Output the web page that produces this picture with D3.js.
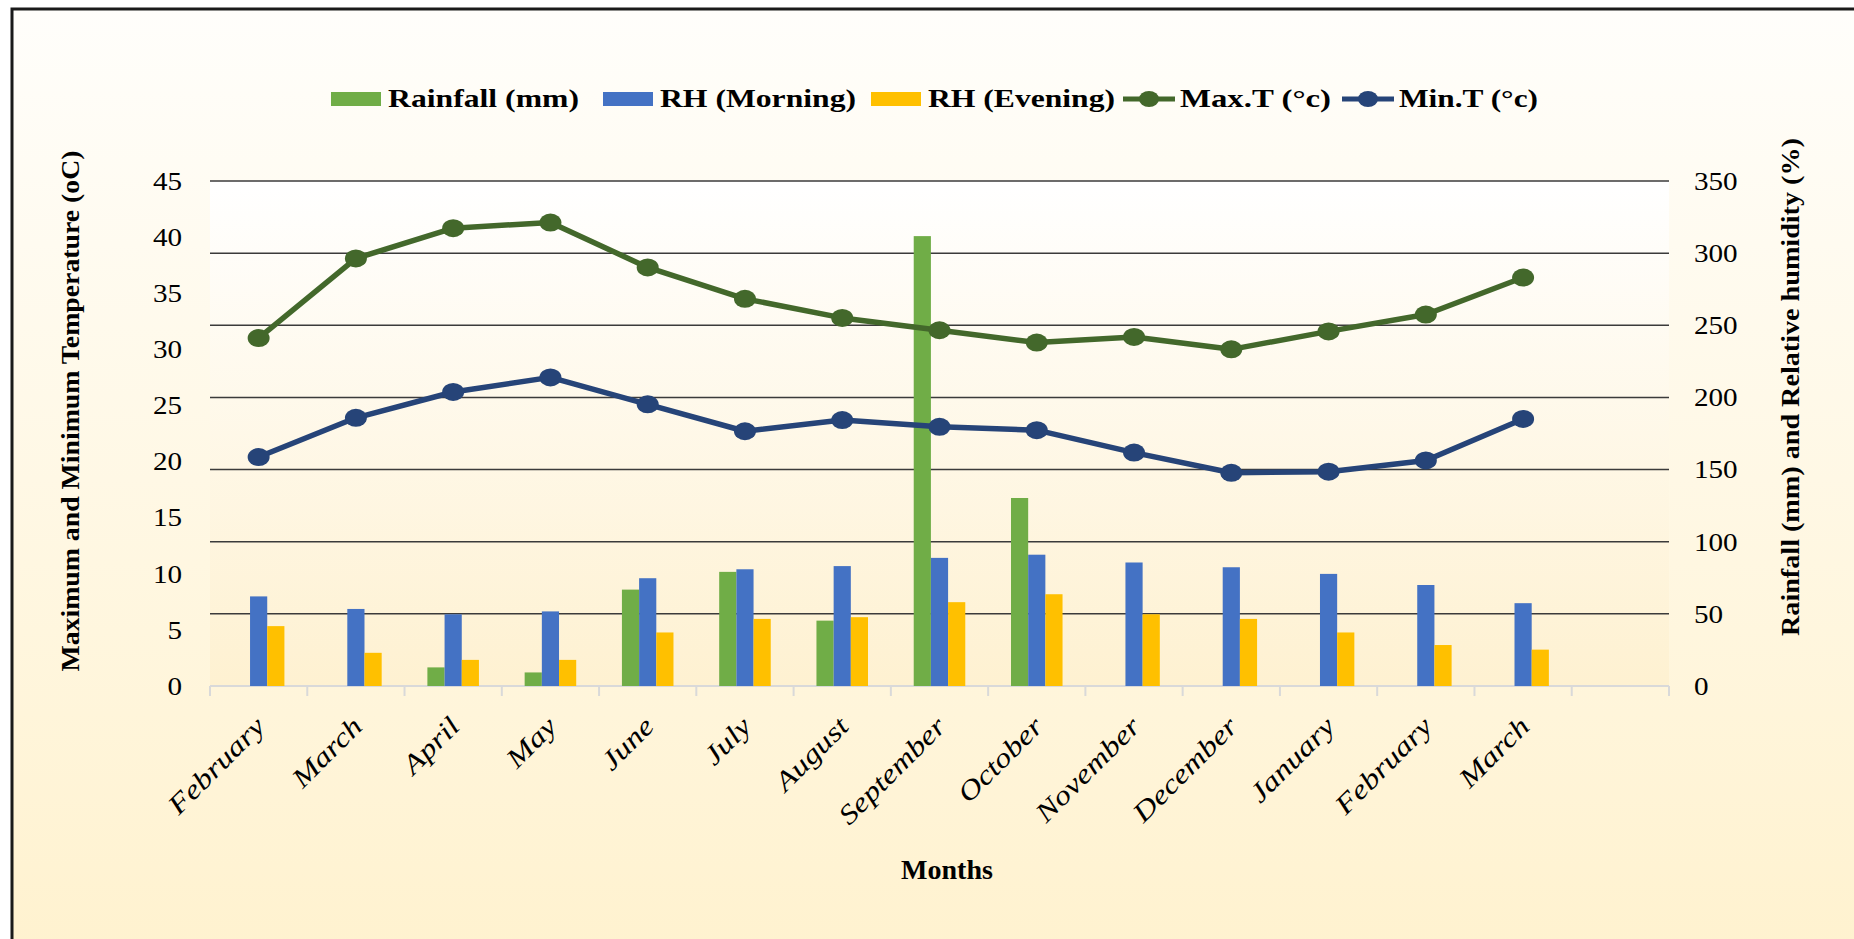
<!DOCTYPE html>
<meta charset="utf-8">
<html>
<head>
<title>Weather chart</title>
<style>
  body { margin: 0; background: #fff; }
  svg { display: block; }
  text { font-family: "Liberation Serif", "Times New Roman", serif; fill: #000; }
</style>
</head>
<body>
<script src="https://d3js.org/d3.v7.min.js"></script>
<svg width="1854" height="939"></svg>
<script>
// data
var months = ["February", "March", "April", "May", "June", "July", "August", "September",
              "October", "November", "December", "January", "February", "March", ""];
var rainfall  = [0, 0, 12.9, 9.4, 66.8, 79.1, 45.3, 311.8, 130.3, 0, 0, 0, 0, 0];
var rhMorning = [62.1, 53.4, 49.7, 51.7, 74.7, 80.9, 83.1, 88.8, 91.0, 85.6, 82.3, 77.7, 70.0, 57.4];
var rhEvening = [41.5, 23.0, 18.1, 18.1, 37.1, 46.5, 47.7, 58.1, 63.6, 49.7, 46.5, 37.1, 28.4, 25.2];
var maxT = [31.0, 38.1, 40.8, 41.3, 37.3, 34.5, 32.8, 31.7, 30.6, 31.1, 30.0, 31.6, 33.1, 36.4];
var minT = [20.4, 23.9, 26.2, 27.5, 25.1, 22.7, 23.7, 23.1, 22.8, 20.8, 19.0, 19.1, 20.1, 23.8];
var leftTicks = [0, 5, 10, 15, 20, 25, 30, 35, 40, 45];
var rightTicks = [0, 50, 100, 150, 200, 250, 300, 350];

var svg = d3.select("svg"),
    plotL = 210, plotR = 1669, plotT = 181, plotB = 686;

var defs = svg.append("defs");
var g1 = defs.append("linearGradient").attr("id", "bg").attr("x1", 0).attr("y1", 0).attr("x2", 0).attr("y2", 1);
g1.append("stop").attr("offset", "0%").attr("stop-color", "#fffefb");
g1.append("stop").attr("offset", "100%").attr("stop-color", "#fff2cf");
var g2 = defs.append("linearGradient").attr("id", "plotbg").attr("x1", 0).attr("y1", 0).attr("x2", 0).attr("y2", 1);
g2.append("stop").attr("offset", "0%").attr("stop-color", "#ffffff");
g2.append("stop").attr("offset", "100%").attr("stop-color", "#fef1d1");

svg.append("rect").attr("x", 12).attr("y", 9).attr("width", 1854).attr("height", 940).attr("fill", "url(#bg)");
svg.append("path").attr("d", "M12,950 L12,9 L1860,9").attr("fill", "none").attr("stroke", "#1a1a1a").attr("stroke-width", 3);
svg.append("rect").attr("x", plotL).attr("y", plotT).attr("width", plotR - plotL).attr("height", plotB - plotT).attr("fill", "url(#plotbg)");

var x = d3.scaleBand().domain(d3.range(months.length)).range([plotL, plotR]);
var yL = d3.scaleLinear().domain([0, 45]).range([plotB, plotT]);
var yR = d3.scaleLinear().domain([0, 350]).range([plotB, plotT]);

// gridlines
svg.append("g").selectAll("line").data(rightTicks.slice(1)).join("line")
    .attr("x1", plotL).attr("x2", plotR)
    .attr("y1", function(d) { return yR(d); }).attr("y2", function(d) { return yR(d); })
    .attr("stroke", "#3b3b3b").attr("stroke-width", 1.5);

// axis line + band ticks
svg.append("line").attr("x1", plotL).attr("x2", plotR).attr("y1", plotB).attr("y2", plotB)
    .attr("stroke", "#d9d9d9").attr("stroke-width", 2);
svg.append("g").selectAll("line").data(d3.range(months.length + 1)).join("line")
    .attr("x1", function(d) { return plotL + d * x.step(); })
    .attr("x2", function(d) { return plotL + d * x.step(); })
    .attr("y1", plotB).attr("y2", plotB + 10)
    .attr("stroke", "#d9d9d9").attr("stroke-width", 2);

// bars
var keys = ["rain", "morn", "eve"];
var colors = {rain: "#70ad47", morn: "#4472c4", eve: "#ffc000"};
var groupW = x.bandwidth() * 0.53;
var x1 = d3.scaleBand().domain(keys).range([0, groupW]);
var rows = rhMorning.map(function(v, i) {
  return {i: i, rain: rainfall[i], morn: v, eve: rhEvening[i]};
});
svg.append("g").selectAll("g").data(rows).join("g")
    .attr("transform", function(d) { return "translate(" + (x(d.i) + (x.bandwidth() - groupW) / 2) + ",0)"; })
  .selectAll("rect").data(function(d) { return keys.map(function(k) { return {k: k, v: d[k]}; }); }).join("rect")
    .attr("x", function(d) { return x1(d.k); })
    .attr("width", x1.bandwidth())
    .attr("y", function(d) { return yR(d.v); })
    .attr("height", function(d) { return plotB - yR(d.v); })
    .attr("fill", function(d) { return colors[d.k]; });

// lines
function drawLine(vals, color) {
  var line = d3.line().x(function(d, i) { return x(i) + x.bandwidth() / 2; }).y(function(d) { return yL(d); });
  svg.append("path").datum(vals).attr("d", line).attr("fill", "none")
      .attr("stroke", color).attr("stroke-width", 5.5).attr("stroke-linejoin", "round");
  svg.append("g").selectAll("ellipse").data(vals).join("ellipse")
      .attr("cx", function(d, i) { return x(i) + x.bandwidth() / 2; })
      .attr("cy", function(d) { return yL(d); })
      .attr("rx", 11).attr("ry", 9).attr("fill", color);
}
drawLine(maxT, "#43682b");
drawLine(minT, "#264478");

// axes
var axL = svg.append("g").attr("transform", "translate(" + plotL + ",0)")
    .call(d3.axisLeft(yL).tickValues(leftTicks).tickSize(0).tickPadding(28));
var axR = svg.append("g").attr("transform", "translate(" + plotR + ",0)")
    .call(d3.axisRight(yR).tickValues(rightTicks).tickSize(0).tickPadding(25));
[axL, axR].forEach(function(a) {
  a.select(".domain").remove();
  a.selectAll("text").attr("font-family", "Liberation Serif, serif").attr("font-size", 26).attr("fill", "#000")
      .each(function() {
        var t = d3.select(this);
        t.attr("textLength", this.getComputedTextLength() * 1.12).attr("lengthAdjust", "spacingAndGlyphs");
      });
});

// month labels, a little wider than the plain font like in the picture
svg.append("g").selectAll("text").data(months).join("text")
    .attr("transform", function(d, i) { return "translate(" + (x(i) + x.bandwidth() / 2 + 8) + ",728) rotate(-45)"; })
    .attr("text-anchor", "end").attr("font-size", 27).attr("font-style", "italic")
    .text(function(d) { return d; })
    .each(function(d) {
      if (d) d3.select(this).attr("textLength", this.getComputedTextLength() * 1.22).attr("lengthAdjust", "spacingAndGlyphs");
    });

// titles
svg.append("text").attr("transform", "translate(79,411) rotate(-90)")
    .attr("text-anchor", "middle").attr("font-size", 26).attr("font-weight", "bold")
    .attr("textLength", 521).attr("lengthAdjust", "spacingAndGlyphs")
    .text("Maximum and Minimum Temperature (oC)");
svg.append("text").attr("transform", "translate(1799,387) rotate(-90)")
    .attr("text-anchor", "middle").attr("font-size", 26).attr("font-weight", "bold")
    .attr("textLength", 498).attr("lengthAdjust", "spacingAndGlyphs")
    .text("Rainfall (mm) and Relative humidity (%)");
svg.append("text").attr("x", 947).attr("y", 879).attr("text-anchor", "middle")
    .attr("font-size", 28).attr("font-weight", "bold").text("Months");

// legend
var legendItems = [
  {name: "Rainfall (mm)", color: "#70ad47", type: "bar", x: 331, w: 191},
  {name: "RH (Morning)", color: "#4472c4", type: "bar", x: 603, w: 196},
  {name: "RH (Evening)", color: "#ffc000", type: "bar", x: 871, w: 187},
  {name: "Max.T (°c)", color: "#43682b", type: "line", x: 1123, w: 151},
  {name: "Min.T (°c)", color: "#264478", type: "line", x: 1342, w: 139}
];
var leg = svg.append("g").selectAll("g").data(legendItems).join("g")
    .attr("transform", function(d) { return "translate(" + d.x + ",99)"; });
leg.filter(function(d) { return d.type == "bar"; }).append("rect")
    .attr("x", 0).attr("y", -7).attr("width", 50).attr("height", 14)
    .attr("fill", function(d) { return d.color; });
leg.filter(function(d) { return d.type == "line"; }).append("line")
    .attr("x1", 0).attr("x2", 52).attr("y1", 0).attr("y2", 0)
    .attr("stroke", function(d) { return d.color; }).attr("stroke-width", 5);
leg.filter(function(d) { return d.type == "line"; }).append("ellipse")
    .attr("cx", 26).attr("cy", 0).attr("rx", 10).attr("ry", 8)
    .attr("fill", function(d) { return d.color; });
leg.append("text").attr("x", 57).attr("y", 8)
    .attr("font-size", 26).attr("font-weight", "bold")
    .attr("textLength", function(d) { return d.w; }).attr("lengthAdjust", "spacingAndGlyphs")
    .text(function(d) { return d.name; });
</script>
</body>
</html>
